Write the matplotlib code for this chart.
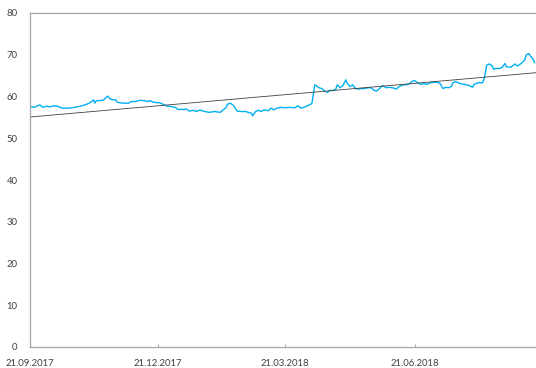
import numpy as np
import pandas as pd
import matplotlib
matplotlib.use("Agg")
from matplotlib import pyplot as plt
import matplotlib.dates as mdates

start = pd.Timestamp("2017-09-21")

# days since start, closing price
day_offset = [0, 3, 7, 9, 12, 14, 17, 20, 23, 27, 32, 36, 40, 43, 45, 46, 47, 49, 52, 55,
              57, 59, 61, 62, 66, 70, 72, 75, 78, 81, 84, 85, 88, 92, 94, 97, 100, 103, 105, 109,
              111, 113, 116, 118, 120, 121, 124, 127, 131, 135, 137, 139, 140, 142, 144, 146, 147, 150, 153, 157,
              158, 160, 162, 164, 166, 169, 171, 173, 175, 178, 181, 184, 188, 190, 192, 195, 197, 200, 202, 203,
              205, 207, 209, 211, 213, 215, 217, 218, 220, 222, 224, 225, 227, 229, 231, 233, 235, 237, 240, 242,
              244, 246, 248, 250, 253, 255, 257, 260, 262, 265, 267, 269, 271, 273, 275, 277, 279, 282, 284, 287,
              289, 291, 293, 295, 297, 299, 300, 302, 305, 308, 311, 314, 315, 318, 321, 322, 323, 324, 326, 328,
              329, 330, 333, 335, 337, 338, 341, 343, 344, 346, 348, 351, 352, 354, 355, 357, 358]
price = [57.6, 57.4, 58.0, 57.4, 57.7, 57.5, 57.8, 57.6, 57.2, 57.2, 57.4, 57.7, 58.1, 58.6, 59.2, 58.4, 59.0, 59.0, 59.1, 60.1,
         59.4, 59.2, 59.2, 58.6, 58.4, 58.4, 58.8, 58.8, 59.1, 59.0, 58.8, 59.0, 58.6, 58.5, 58.2, 57.7, 57.6, 57.4, 56.9, 56.9,
         57.0, 56.5, 56.7, 56.4, 56.7, 56.7, 56.4, 56.2, 56.4, 56.2, 56.8, 57.3, 58.1, 58.4, 58.0, 57.0, 56.5, 56.4, 56.4, 56.0,
         55.4, 56.4, 56.7, 56.4, 56.8, 56.6, 57.2, 56.8, 57.2, 57.4, 57.3, 57.4, 57.3, 57.8, 57.2, 57.5, 57.8, 58.3, 62.8, 62.6,
         62.1, 61.9, 61.3, 61.0, 61.5, 61.4, 61.8, 62.8, 62.1, 62.6, 64.0, 63.2, 62.4, 62.8, 61.9, 61.8, 61.9, 61.9, 62.1, 62.1,
         61.5, 61.3, 61.9, 62.6, 62.1, 62.2, 62.1, 61.8, 62.4, 62.8, 62.8, 63.0, 63.6, 63.8, 63.3, 62.9, 63.1, 62.9, 63.3, 63.4,
         63.4, 63.1, 61.9, 62.2, 62.1, 62.4, 63.3, 63.6, 63.1, 62.9, 62.7, 62.2, 62.9, 63.3, 63.3, 64.0, 65.5, 67.5, 67.8, 67.3,
         66.5, 66.7, 66.7, 67.0, 67.9, 67.1, 67.0, 67.5, 67.8, 67.3, 67.8, 68.7, 69.9, 70.3, 69.7, 68.9, 68.1]

tick_dates = ["2017-09-21", "2017-12-21", "2018-03-21", "2018-06-21"]

line_color = "#00b0f0"
text_color = "#404040"
axis_color = "#a6a6a6"

dates = start + pd.to_timedelta(day_offset, unit="D")

# linear trend over the whole period
coef = np.polyfit(day_offset, price, 1)
trend_days = np.array([0, 359])
trend_dates = start + pd.to_timedelta(trend_days, unit="D")

plt.rcParams["font.family"] = ["Lato", "DejaVu Sans"]

fig = plt.figure(figsize=(5.36, 3.68), dpi=100)
ax = fig.add_axes([30 / 536, 1 - 347 / 368, 506 / 536, 334 / 368])

ax.plot(dates, price, color=line_color, linewidth=1.0)
ax.plot(trend_dates, np.polyval(coef, trend_days), color="#404040", linewidth=0.6)

ax.set_xlim(start, start + pd.Timedelta(days=359))
ax.set_ylim(0, 80)
ax.set_yticks(range(0, 81, 10))
ax.set_xticks(pd.to_datetime(tick_dates))
ax.xaxis.set_major_formatter(mdates.DateFormatter("%d.%m.%Y"))

for side in ["left", "bottom", "top"]:
    ax.spines[side].set_color(axis_color)
    ax.spines[side].set_linewidth(0.9)
ax.spines["right"].set_visible(False)

ax.tick_params(axis="y", length=0, pad=9, labelsize=6.8, labelcolor=text_color)
ax.tick_params(axis="x", length=2, direction="in", color=axis_color, pad=9,
               labelsize=6.8, labelcolor=text_color)

fig.savefig("out.png", dpi=100)
